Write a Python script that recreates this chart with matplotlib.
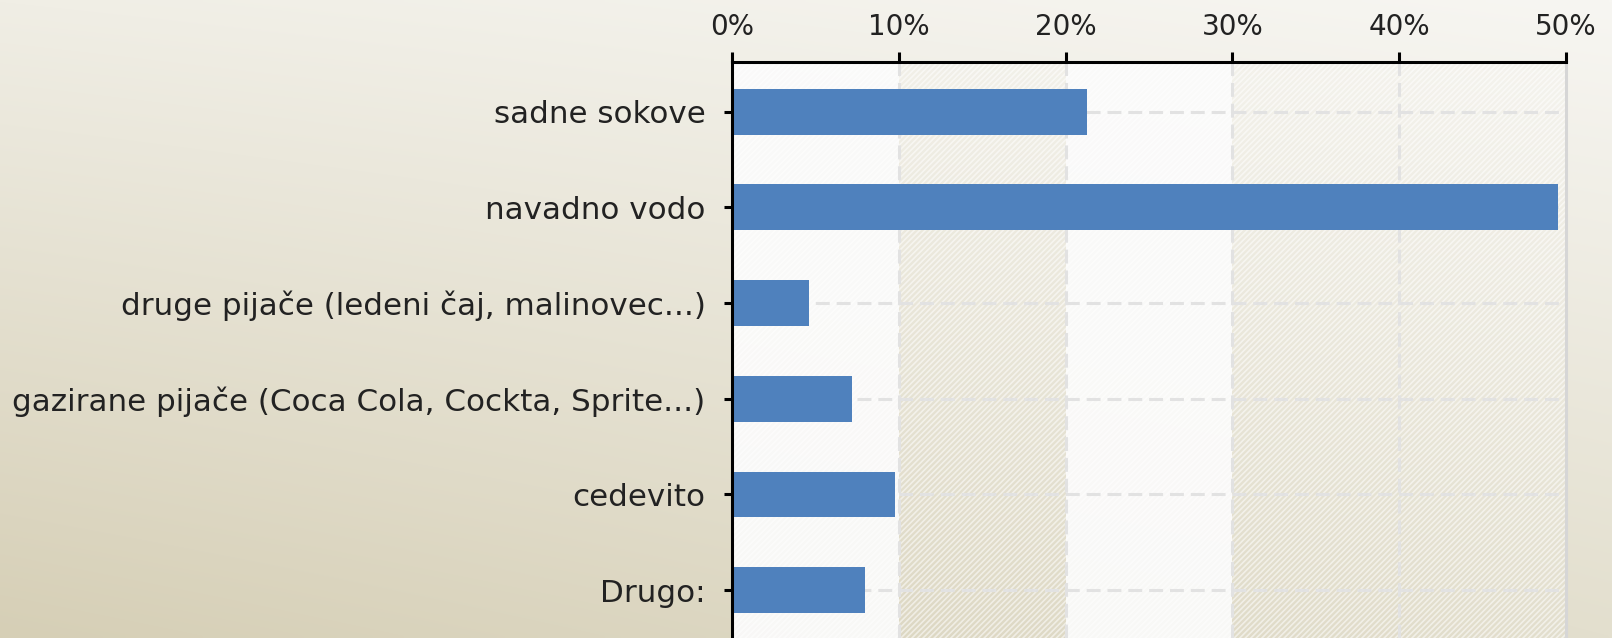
import matplotlib
matplotlib.use("Agg")
import matplotlib.pyplot as plt
import numpy as np

# Datos
kategorije = ["sadne sokove", "navadno vodo", "druge pijače (ledeni čaj, malinovec...)",
              "gazirane pijače (Coca Cola, Cockta, Sprite...)", "cedevito", "Drugo:"]
odstotki = [21.3, 49.5, 4.6, 7.2, 9.8, 8.0]
x_ticks = [0, 10, 20, 30, 40, 50]
x_labels = ["0%", "10%", "20%", "30%", "40%", "50%"]

plt.rcParams["font.family"] = ["DejaVu Sans"]
plt.rcParams["lines.scale_dashes"] = False
plt.rcParams["hatch.linewidth"] = 1.2

fig = plt.figure(figsize=(16.12, 6.38), dpi=100)

# fondo degradado (suave, de arriba-derecha clara a abajo-izquierda oscura)
tl = np.array([240, 238, 229]) / 255.0
tr = np.array([247, 246, 242]) / 255.0
bl = np.array([214, 207, 182]) / 255.0
br = np.array([227, 223, 206]) / 255.0
u = np.linspace(0, 1, 300)[None, :, None]
v = np.linspace(0, 1, 150)[:, None, None]
grad = (1 - v) * ((1 - u) * tl + u * tr) + v * ((1 - u) * bl + u * br)
bg = fig.add_axes([0, 0, 1, 1], zorder=-10)
bg.imshow(grad, aspect="auto", interpolation="bilinear", extent=[0, 1, 0, 1])
bg.set_axis_off()

ax = fig.add_axes([732 / 1612, 0.0, (1566 - 732) / 1612, 1 - 62 / 638])
ax.patch.set_alpha(0)

# bandas
for a, b in [(0, 10), (20, 30)]:
    ax.axvspan(a, b, facecolor=(0.985, 0.985, 0.985), alpha=0.92, linewidth=0, zorder=0)
ax.axvspan(0, 50, facecolor="none", hatch="//////", edgecolor=(1, 1, 1, 0.55), linewidth=0, zorder=0.5)

y = np.arange(len(kategorije))
dash = (0, (10, 5))
for xv in x_ticks[1:-1]:
    ax.axvline(xv, color="#e2e2e2", lw=2.2, linestyle=dash, zorder=1)
for yv in y:
    ax.axhline(yv, color="#e2e2e2", lw=2.2, linestyle=dash, zorder=1)

ax.barh(y, odstotki, height=0.48, color="#4f81bd", zorder=3)

ax.set_xlim(0, 50)
ax.set_ylim(5.5, -0.52)
ax.xaxis.tick_top()
ax.set_xticks(x_ticks)
ax.set_xticklabels(x_labels)
ax.set_yticks(y)
ax.set_yticklabels(kategorije)
ax.tick_params(axis="x", length=7.2, width=2.2, pad=8, labelsize=20, colors="black",
               labelcolor="#222222")
ax.tick_params(axis="y", length=6, width=2.2, pad=13, labelsize=22.3, colors="black",
               labelcolor="#222222")

ax.spines["top"].set_linewidth(2.2)
ax.spines["left"].set_linewidth(2.2)
ax.spines["right"].set_color("#d6d6d6")
ax.spines["right"].set_linewidth(2.2)
ax.spines["bottom"].set_visible(False)
for s in ax.spines.values():
    s.set_zorder(5)

fig.savefig("out.png", dpi=100)
